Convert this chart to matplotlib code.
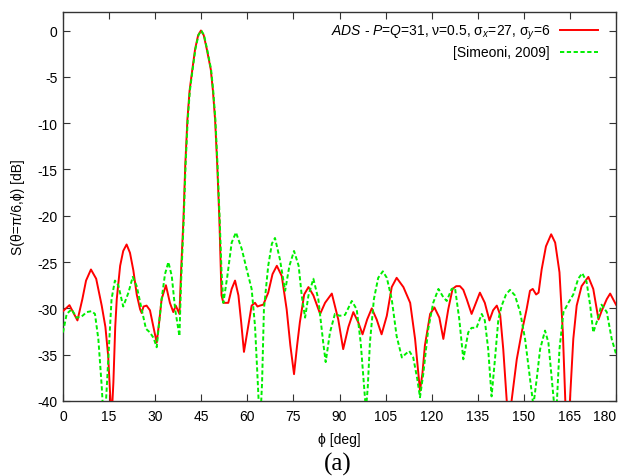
import matplotlib
matplotlib.use("Agg")
import matplotlib.pyplot as plt

# ---- data (phi in deg, S in dB) ----
phi_ads = [0, 2.1, 4.7, 6.3, 7.5, 9.1, 10.8, 12.6, 13.8, 14.7, 15.3, 15.8, 16.4, 17.0,
           17.5, 18.6, 19.6, 20.7, 21.8, 22.9, 24.0, 25.1, 25.6, 26.2, 27.2, 28.3,
           29.3, 30.5, 31.3, 32.1, 33.5, 34.8, 35.9, 36.7, 37.9,
           38.5, 39.2, 39.8, 40.5, 41.2, 42.1, 43.0, 44.0, 44.9, 45.8, 46.8, 48.1,
           48.8, 49.5, 50.2, 50.9, 51.3, 51.6,
           52.2, 53.8, 54.9, 56.0, 57.1, 58.0, 58.9, 60.3, 61.4, 62.5, 63.3, 64.1,
           65.2, 66.8, 68.2, 69.6, 71.2, 72.8, 74.0, 75.2, 76.2, 77.1, 78.5, 79.9,
           81.5, 83.7, 85.3, 87.5, 89.6, 91.2, 92.9, 94.5, 96.1, 97.5, 99.0, 100.5,
           102.1, 103.7, 105.4, 107.0, 108.6, 110.8, 113.0, 114.6, 115.5, 116.2,
           117.0, 117.8, 119.5, 120.9, 122.5, 123.8, 125.4, 126.8, 128.0, 129.2,
           130.3, 131.4, 133.0, 134.3, 135.7, 137.3, 138.8, 140.0, 141.2, 142.3,
           143.3, 144.4, 145.2, 146.0, 147.7, 149.3, 150.9, 152.0, 152.9, 154.0,
           154.8, 155.8, 157.2, 158.9, 160.2, 161.6, 162.7, 163.5, 164.3, 165.0,
           166.1, 167.2, 168.8, 171.0, 172.6, 174.3, 175.3, 177.0, 178.1, 180.0]
s_ads = [-30.3, -29.65, -31.3, -29.0, -27.0, -25.8, -26.8, -29.7, -32.0, -35.1, -39.0,
         -42.0, -38.0, -32.0, -29.0, -25.4, -23.8, -23.1, -24.0, -25.9, -28.5, -30.1,
         -30.5, -29.8, -29.7, -30.2, -31.8, -33.7, -31.5, -29.0, -27.5, -29.4, -30.4,
         -29.7, -30.6,
         -25.5, -20.4, -14.5, -9.6, -6.5, -4.2, -2.0, -0.5, 0.0, -0.5, -2.0, -4.2,
         -6.5, -9.6, -14.5, -20.4, -25.0, -28.6,
         -29.4, -29.4, -27.9, -27.0, -28.6, -31.5, -34.7, -31.9, -29.7, -29.4, -29.8,
         -29.7, -29.6, -28.3, -26.3, -25.4, -26.5, -30.1, -34.0, -37.1, -34.0, -31.5,
         -28.5, -27.7, -28.6, -30.6, -29.4, -28.4, -31.2, -34.4, -32.0, -30.4, -31.5,
         -32.8, -31.2, -30.0, -31.2, -32.8, -30.8, -27.7, -26.7, -27.7, -29.4, -33.3,
         -36.5, -38.9, -37.0, -34.0, -30.6, -29.9, -31.0, -33.3, -30.1, -27.9, -27.6,
         -27.6, -28.0, -29.0, -30.6, -29.5, -28.3, -29.4, -31.3, -30.2, -29.7, -30.7,
         -34.4, -39.8, -43.0, -40.0, -35.5, -32.6, -30.1, -28.1, -27.9, -28.5, -28.3,
         -25.8, -23.3, -22.0, -22.9, -26.1, -32.6, -40.0, -44.0, -40.0, -33.3, -29.7,
         -27.6, -26.6, -27.9, -31.2, -30.3, -29.0, -28.4, -29.6]

phi_sim = [0, 1.2, 2.8, 4.4, 6.0, 7.7, 9.3, 10.4, 11.5, 12.6, 13.2, 14.0, 15.1, 15.8,
           16.9, 18.0, 19.6, 21.3, 22.7, 24.0, 25.6, 27.0, 28.3, 29.5, 30.5, 31.3,
           32.1, 33.2, 34.3, 35.4, 36.5, 37.9, 38.4,
           39.3, 39.9, 40.6, 41.3, 42.2, 43.1, 44.1, 45.0, 45.9, 46.9, 48.2, 48.9,
           49.6, 50.3, 51.0, 51.6,
           52.2, 53.5, 54.9, 56.3, 58.2, 59.8, 61.4, 62.5, 63.4, 64.1, 64.8, 65.4,
           66.8, 68.0, 69.0, 70.6, 72.3, 73.7, 75.2, 76.7, 77.7, 78.8, 79.9, 81.5,
           83.1, 84.7, 85.5, 86.9, 88.5, 90.1, 91.8, 94.0, 95.6, 96.9, 98.0, 98.6,
           99.2, 99.9, 101.2, 102.6, 104.1, 105.4, 107.0, 108.6, 110.3, 111.6, 112.7,
           114.0, 115.3, 116.2, 117.3, 118.9, 120.5, 122.2, 123.8, 124.9, 126.5,
           127.6, 129.0, 130.3, 131.9, 133.0, 134.6, 136.3, 137.3, 138.4, 139.5,
           140.6, 141.7, 142.8, 144.2, 145.5, 147.1, 148.8, 150.4, 152.0, 153.1,
           154.2, 155.3, 156.9, 158.0, 159.1, 159.9, 160.7, 161.6, 162.9, 164.5,
           166.1, 167.7, 169.0, 170.4, 171.6, 172.6, 173.7, 175.3, 177.0, 178.6, 180.0]
s_sim = [-32.6, -30.6, -30.1, -31.0, -30.9, -30.4, -30.3, -30.6, -33.3, -38.4, -42.0,
         -40.0, -33.3, -29.0, -27.0, -27.5, -29.8, -28.3, -26.6, -27.6, -30.1, -32.2,
         -32.6, -33.2, -34.2, -31.5, -29.0, -26.3, -25.0, -26.5, -30.1, -33.0, -27.5,
         -20.4, -14.5, -9.6, -6.5, -4.2, -2.0, -0.5, 0.0, -0.5, -2.0, -4.2, -6.5,
         -9.6, -14.5, -20.4, -26.0,
         -29.4, -26.5, -22.9, -21.8, -23.6, -25.8, -27.9, -31.9, -38.0, -43.0, -38.0,
         -30.1, -25.4, -23.0, -22.4, -24.7, -28.1, -25.4, -23.8, -25.4, -28.6, -31.0,
         -28.6, -26.8, -29.0, -33.7, -35.8, -32.6, -30.6, -30.8, -30.7, -29.2, -30.1,
         -33.7, -38.5, -41.0, -38.5, -33.7, -29.0, -26.7, -26.0, -26.7, -29.0, -33.0,
         -35.3, -34.9, -34.6, -35.3, -37.6, -39.6, -37.0, -32.2, -29.4, -27.9, -28.8,
         -29.2, -27.9, -27.8, -31.2, -35.5, -32.6, -32.1, -32.1, -30.6, -31.3, -34.4,
         -39.5, -35.5, -31.2, -29.7, -28.5, -28.0, -28.6, -30.4, -33.3, -37.6, -40.5,
         -37.6, -34.4, -32.4, -33.7, -37.6, -40.5, -40.5, -34.4, -30.4, -29.4, -28.5,
         -26.8, -26.2, -27.1, -29.7, -32.6, -31.5, -29.6, -30.4, -33.3, -34.9]

x_ticks = list(range(0, 181, 15))
y_ticks = list(range(-40, 1, 5))

label_ads = r"$\mathit{ADS}$ - $\mathit{P}$=$\mathit{Q}$=31, ν=0.5, σ$_{x}$=27, σ$_{y}$=6"
label_sim = "[Simeoni, 2009]"

FS = 10

plt.rcParams["font.family"] = ["Liberation Sans", "DejaVu Sans"]
plt.rcParams["mathtext.fontset"] = "custom"
plt.rcParams["mathtext.rm"] = "Liberation Sans"
plt.rcParams["mathtext.it"] = "Liberation Sans:italic"
plt.rcParams["axes.unicode_minus"] = False
plt.rcParams["font.size"] = FS

fig = plt.figure(figsize=(6.23, 4.77), dpi=100)
ax = fig.add_axes([63 / 623, 1 - 402 / 477, 553 / 623, 389 / 477])

ax.plot(phi_ads, s_ads, color="#ff0000", lw=1.4, label=label_ads, zorder=3)
ax.plot(phi_sim, s_sim, color="#00ee00", lw=1.4, linestyle=(0, (2.2, 1.3)),
        label=label_sim, zorder=4)

ax.set_xlim(0, 180)
ax.set_ylim(-40, 2)
ax.set_xticks(x_ticks)
ax.set_yticks(y_ticks)
ax.tick_params(direction="in", length=5, width=0.8, top=True, right=True,
               labelsize=FS, color="#333333")
ax.tick_params(axis="x", pad=6)
ax.tick_params(axis="y", pad=4)
for sp in ax.spines.values():
    sp.set_linewidth(1.0)
    sp.set_color("#333333")

# gnuplot pulls the last x label inside the canvas
xlabels = ax.get_xticklabels()
xlabels[-1].set_horizontalalignment("right")
xlabels[-1].set_x(x_ticks[-1])

ax.set_xlabel("ϕ [deg]", fontsize=FS, labelpad=6)
ax.set_ylabel("S(θ=π/6,ϕ) [dB]", fontsize=FS, labelpad=9)

leg = ax.legend(loc="upper right", bbox_to_anchor=(1 - 18 / 553, 1 - 11 / 389),
                frameon=False, markerfirst=False, handlelength=2.75,
                handletextpad=0.7, borderaxespad=0, borderpad=0,
                labelspacing=0.3, fontsize=FS)

fig.text(338 / 623, 1 - 464 / 477, "(a)", family="Liberation Serif",
         fontsize=18, ha="center", va="center")

fig.savefig("out.png", dpi=100)
